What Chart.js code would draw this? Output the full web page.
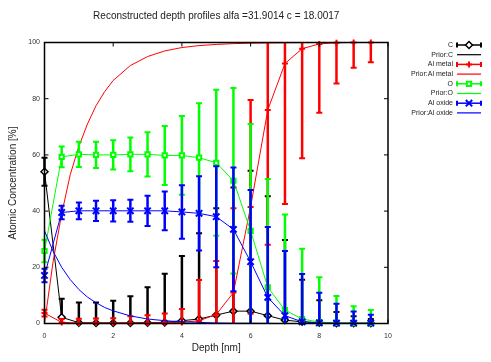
<!DOCTYPE html>
<html>
<head>
<meta charset="utf-8">
<script src="https://cdn.jsdelivr.net/npm/chart.js@4"></script>
<style>
  html, body { margin: 0; padding: 0; background: #fff; }
</style>
</head>
<body>
<canvas id="grafico1" width="491" height="362"></canvas>
<script>
const ctx = document.getElementById('grafico1')

// profundidades medidas (nm)
const depth = [0, 0.5, 1, 1.5, 2, 2.5, 3, 3.5, 4, 4.5, 5, 5.5, 6, 6.5, 7, 7.5, 8, 8.5, 9, 9.5]

const valC = [54, 2.2, 0.3, 0.2, 0.2, 0.2, 0.3, 0.4, 1.0, 1.6, 3.0, 4.4, 4.4, 2.8, 1.2, 0.6, 0.3, 0.1, 0.1, 0.1]
const errC = [5, 6.6, 7.2, 7.3, 7.9, 9.5, 12.6, 17.3, 23, 30.5, 38, 44, 50, 42.5, 28.5, 15, 8, 4, 2.5, 1.5]

const valAl = [3.7, 0.4, 0.2, 0.2, 0.2, 0.2, 0.2, 0.3, 0.4, 1.0, 3.2, 11, 41.5, 76, 92.5, 97.8, 99.5, 99.9, 100, 100]
const errAl = [1.2, 1.2, 1.5, 1.6, 1.7, 2.4, 2.7, 3.3, 4.8, 14.5, 19, 30, 38, 48, 50, 39, 24.5, 14.5, 9, 7]

const valO = [25.8, 59.3, 60.2, 60, 60, 60.2, 60.2, 59.8, 59.8, 59, 57.2, 50.8, 33, 12.9, 4.8, 1.6, 0.5, 0.2, 0.1, 0.1]
const errO = [4, 3.7, 4.5, 4.7, 5.2, 6, 7.9, 10.5, 14, 19.4, 26, 33, 38, 38.5, 34, 25, 16, 9.6, 6, 4.7]

const valAlox = [17.1, 39.5, 40.1, 40.1, 40.1, 40.1, 40.1, 40.1, 39.7, 39.2, 38, 33.5, 22, 9.3, 2.8, 0.6, 0.2, 0.1, 0.1, 0.1]
const errAlox = [2.4, 2.4, 3, 3.6, 3.8, 3.9, 5.4, 6.9, 9.5, 13.2, 18, 22, 25.5, 25, 23, 17, 10.7, 6.9, 4.2, 3]

// perfiles a priori
const priorDepth = [0, 0.25, 0.5, 0.75, 1, 1.25, 1.5, 1.75, 2, 2.5, 3, 3.5, 4, 4.5, 5, 5.5, 6, 7, 8, 9, 10]
const priorC = [0, 0, 0, 0, 0, 0, 0, 0, 0, 0, 0, 0, 0, 0, 0, 0, 0, 0, 0, 0, 0]
const priorAl = [0, 22, 39, 53, 63, 71, 77.5, 82.5, 86.5, 91.8, 95, 97, 98.2, 98.9, 99.3, 99.6, 99.75, 99.9, 100, 100, 100]
const priorO = [0, 0, 0, 0, 0, 0, 0, 0, 0, 0, 0, 0, 0, 0, 0, 0, 0, 0, 0, 0, 0]
const priorAlox = [33, 25.7, 20, 15.6, 12.1, 9.4, 7.4, 5.7, 4.5, 2.7, 1.6, 1.0, 0.6, 0.4, 0.2, 0.1, 0.1, 0, 0, 0, 0]

const xTicks = [0, 2, 4, 6, 8, 10]
const yTicks = [0, 20, 40, 60, 80, 100]

const pts = (xs, ys) => xs.map((x, i) => ({ x: x, y: ys[i] }))

const main = (label, vals, errs, color, style, radius, bg, bw) => ({
    label: label, data: pts(depth, vals), errorBars: errs,
    borderColor: color, borderWidth: 1, backgroundColor: color,
    pointStyle: style, pointRadius: radius, pointBorderWidth: bw,
    pointBackgroundColor: bg, pointBorderColor: color, clip: false
})
const prior = (label, vals, color) => ({
    label: label, data: pts(priorDepth, vals),
    borderColor: color, borderWidth: 1, pointRadius: 0
})

const datasets = [
    main('C', valC, errC, '#000000', 'rectRot', 3.5, '#ffffff', 1.5),
    prior('Prior:C', priorC, '#000000'),
    main('Al metal', valAl, errAl, '#ff0000', 'cross', 3, '#ff0000', 2),
    prior('Prior:Al metal', priorAl, '#ff0000'),
    main('O', valO, errO, '#00ff00', 'rect', 3, '#ffffff', 2),
    prior('Prior:O', priorO, '#00ff00'),
    main('Al oxide', valAlox, errAlox, '#0000ff', 'crossRot', 4.5, '#0000ff', 2),
    prior('Prior:Al oxide', priorAlox, '#0000ff')
]
// primero en la lista = dibujado abajo
datasets.forEach((d, i) => { d.order = datasets.length - i })

// barras de error
const errorBars = {
    id: 'errorBars',
    beforeDatasetDraw(chart, args) {
        const ds = chart.data.datasets[args.index]
        if (!ds.errorBars) return
        const c = chart.ctx, a = chart.chartArea
        const x = chart.scales.x, y = chart.scales.y
        c.save()
        c.beginPath()
        c.rect(a.left - 6, a.top, a.width + 12, a.height)
        c.clip()
        c.strokeStyle = ds.borderColor
        ds.data.forEach((p, i) => {
            const e = ds.errorBars[i]
            const px = x.getPixelForValue(p.x)
            const top = y.getPixelForValue(p.y + e)
            const bot = y.getPixelForValue(p.y - e)
            c.lineWidth = 2.5
            c.beginPath()
            c.moveTo(px, top)
            c.lineTo(px, bot)
            c.stroke()
            c.lineWidth = 2
            c.beginPath()
            c.moveTo(px - 3, top); c.lineTo(px + 3, top)
            c.moveTo(px - 3, bot); c.lineTo(px + 3, bot)
            c.stroke()
        })
        c.restore()
    }
}

// marco con marcas hacia dentro
const frame = {
    id: 'frame',
    afterDatasetsDraw(chart) {
        const c = chart.ctx, a = chart.chartArea
        const x = chart.scales.x, y = chart.scales.y
        c.save()
        c.strokeStyle = '#000'
        c.lineWidth = 1.5
        c.strokeRect(a.left, a.top, a.width, a.height)
        c.lineWidth = 1
        c.beginPath()
        xTicks.forEach(v => {
            const px = x.getPixelForValue(v)
            c.moveTo(px, a.bottom); c.lineTo(px, a.bottom - 4)
            c.moveTo(px, a.top); c.lineTo(px, a.top + 4)
        })
        yTicks.forEach(v => {
            const py = y.getPixelForValue(v)
            c.moveTo(a.left, py); c.lineTo(a.left + 4, py)
            c.moveTo(a.right, py); c.lineTo(a.right - 4, py)
        })
        c.stroke()
        c.restore()
    }
}

// leyenda a la derecha, texto a la izquierda del simbolo
const sideLegend = {
    id: 'sideLegend',
    afterDraw(chart) {
        const c = chart.ctx
        c.save()
        c.font = '7px "Liberation Sans", Arial, sans-serif'
        c.textAlign = 'right'
        c.textBaseline = 'middle'
        chart.data.datasets.forEach((ds, i) => {
            const yy = 45 + i * 9.7
            c.fillStyle = '#222'
            c.fillText(ds.label, 453, yy)
            c.strokeStyle = ds.borderColor
            c.lineWidth = ds.errorBars ? 1.5 : 1.2
            c.beginPath()
            c.moveTo(457, yy); c.lineTo(481, yy)
            c.stroke()
            if (ds.errorBars) {
                c.lineWidth = 2
                c.beginPath()
                c.moveTo(457, yy - 2.5); c.lineTo(457, yy + 2.5)
                c.moveTo(481, yy - 2.5); c.lineTo(481, yy + 2.5)
                c.stroke()
                c.fillStyle = ds.pointBackgroundColor
                c.lineWidth = ds.pointBorderWidth
                Chart.helpers.drawPoint(c, {
                    pointStyle: ds.pointStyle, radius: ds.pointRadius,
                    borderWidth: ds.pointBorderWidth, rotation: 0
                }, 469, yy)
            }
        })
        c.restore()
    }
}

Chart.defaults.font.family = '"Liberation Sans", Arial, sans-serif'

let grafico1 = new Chart(ctx, {
    type: 'line',
    data: { datasets: datasets },
    options: {
        responsive: false,
        animation: false,
        layout: { padding: { top: 0, left: 0, right: 103, bottom: 0 } },
        plugins: {
            legend: { display: false },
            tooltip: { enabled: false },
            title: {
                display: true,
                fullSize: false,
                text: 'Reconstructed depth profiles alfa =31.9014 c = 18.0017',
                color: '#222',
                font: { size: 10, weight: 'normal' },
                padding: { top: 10, bottom: 20.5 }
            }
        },
        scales: {
            x: {
                type: 'linear', min: 0, max: 10, offset: false,
                afterBuildTicks: s => { s.ticks = xTicks.map(v => ({ value: v })) },
                afterFit: s => { s.height = 38.5 },
                ticks: { font: { size: 7 }, color: '#333', padding: 8, maxRotation: 0 },
                grid: { display: false, drawTicks: false },
                border: { display: false },
                title: { display: true, text: 'Depth [nm]', color: '#222', font: { size: 10 }, padding: { top: 0, bottom: 8 } }
            },
            y: {
                min: 0, max: 100,
                afterBuildTicks: s => { s.ticks = yTicks.map(v => ({ value: v })) },
                afterFit: s => { s.width = 44.5 },
                ticks: { font: { size: 7 }, color: '#333', padding: 4.5 },
                grid: { display: false, drawTicks: false },
                border: { display: false },
                title: { display: true, text: 'Atomic Concentration [%]', color: '#222', font: { size: 10 }, padding: { top: 7, bottom: 0 } }
            }
        }
    },
    plugins: [errorBars, frame, sideLegend]
})
</script>
</body>
</html>
